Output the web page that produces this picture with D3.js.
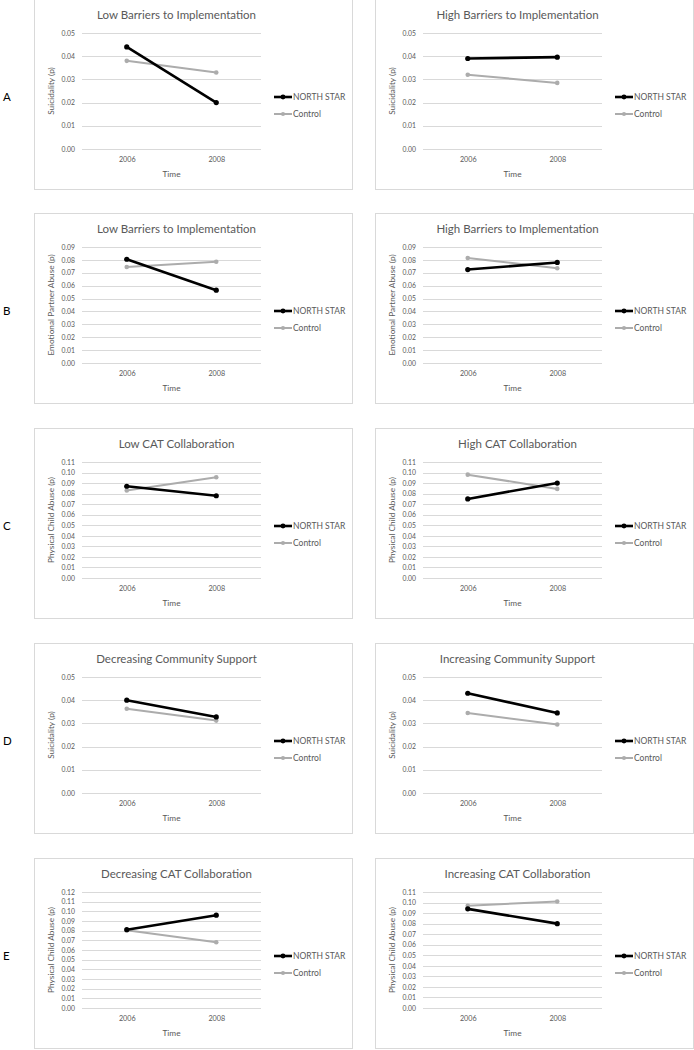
<!DOCTYPE html>
<html><head><meta charset="utf-8">
<script src="https://cdn.jsdelivr.net/npm/d3@7"></script>
<style>
html,body{margin:0;padding:0;background:#fff;}
svg{display:block;font-family:Lato, "Open Sans", sans-serif;}
</style></head>
<body>
<svg id="chart" width="694" height="1050"></svg>
<script>
const years = ["2006", "2008"];
const seriesNames = ["NORTH STAR", "Control"];
const rowLabels = ["A", "B", "C", "D", "E"];
const panelTitles = [
  "Low Barriers to Implementation", "High Barriers to Implementation",
  "Low Barriers to Implementation", "High Barriers to Implementation",
  "Low CAT Collaboration", "High CAT Collaboration",
  "Decreasing Community Support", "Increasing Community Support",
  "Decreasing CAT Collaboration", "Increasing CAT Collaboration"
];
const yTitles = [
  "Suicidality (p)", "Suicidality (p)",
  "Emotional Partner Abuse (p)", "Emotional Partner Abuse (p)",
  "Physical Child Abuse (p)", "Physical Child Abuse (p)",
  "Suicidality (p)", "Suicidality (p)",
  "Physical Child Abuse (p)", "Physical Child Abuse (p)"
];
const yMax = [0.05, 0.05, 0.09, 0.09, 0.11, 0.11, 0.05, 0.05, 0.12, 0.11];
const northStar = [
  [0.044, 0.020], [0.039, 0.0396],
  [0.0805, 0.0565], [0.0725, 0.078],
  [0.087, 0.078], [0.075, 0.090],
  [0.040, 0.0328], [0.043, 0.0345],
  [0.081, 0.096], [0.094, 0.080]
];
const control = [
  [0.038, 0.033], [0.032, 0.0285],
  [0.0745, 0.0785], [0.0815, 0.0735],
  [0.083, 0.0955], [0.098, 0.0845],
  [0.0363, 0.0312], [0.0345, 0.0295],
  [0.0805, 0.068], [0.097, 0.101]
];

const svg = d3.select("#chart");
const panelW = 318, panelH = 190;
const colX = [34, 375];
const rowY = [-1, 213, 428, 643, 858];
const plot = {left: 48, right: 227, top: 34, bottom: 150};
const txt = "#595959", grid = "#d9d9d9";
const colors = ["#000000", "#acacac"];
const widths = [2.6, 2.0];

rowLabels.forEach((lab, r) => {
  svg.append("text").attr("x", 3).attr("y", rowY[r] + 102)
    .attr("font-size", 11.5).attr("fill", "#000").text(lab);
});

panelTitles.forEach((title, i) => {
  const r = Math.floor(i / 2), c = i % 2;
  const g = svg.append("g").attr("transform", `translate(${colX[c]},${rowY[r]})`);
  g.append("rect").attr("x", 0.5).attr("y", 0.5).attr("width", panelW).attr("height", panelH)
    .attr("fill", "#fff").attr("stroke", grid).attr("stroke-width", 1);

  const x = d3.scalePoint().domain(years).range([plot.left, plot.right]).padding(0.5);
  const y = d3.scaleLinear().domain([0, yMax[i]]).range([plot.bottom, plot.top]);
  const nTicks = Math.round(yMax[i] / 0.01);
  const ticks = d3.range(nTicks + 1).map(k => k * 0.01);

  // gridlines
  g.append("g").selectAll("line").data(ticks).join("line")
    .attr("x1", plot.left).attr("x2", plot.right)
    .attr("y1", d => Math.round(y(d)) + 0.5).attr("y2", d => Math.round(y(d)) + 0.5)
    .attr("stroke", grid).attr("stroke-width", 1);

  // y axis labels
  const ya = g.append("g").attr("transform", `translate(${plot.left - 4},0)`)
    .call(d3.axisLeft(y).tickValues(ticks).tickFormat(d3.format(".2f")).tickSize(0));
  ya.select(".domain").remove();
  ya.selectAll("text").attr("fill", txt).attr("font-size", 6.8)
    .attr("font-family", "Lato, 'Open Sans', sans-serif");

  // x axis labels
  const xa = g.append("g").attr("transform", `translate(0,${plot.bottom + 5})`)
    .call(d3.axisBottom(x).tickSize(0));
  xa.select(".domain").remove();
  xa.selectAll("text").attr("fill", txt).attr("font-size", 7.2)
    .attr("font-family", "Lato, 'Open Sans', sans-serif");

  // titles
  g.append("text").attr("x", (plot.left + plot.right) / 2 + 5).attr("y", 20)
    .attr("text-anchor", "middle").attr("font-size", 11.5).attr("fill", txt).text(title);
  g.append("text").attr("x", (plot.left + plot.right) / 2).attr("y", plot.bottom + 28)
    .attr("text-anchor", "middle").attr("font-size", 8.3).attr("fill", txt).text("Time");
  g.append("text")
    .attr("transform", `translate(20,${(plot.top + plot.bottom) / 2}) rotate(-90)`)
    .attr("text-anchor", "middle").attr("font-size", 8.3).attr("fill", txt).text(yTitles[i]);

  // series
  const line = d3.line().x((d, k) => x(years[k])).y(d => y(d));
  [control[i], northStar[i]].forEach((vals, s0) => {
    const s = 1 - s0;
    g.append("path").datum(vals).attr("d", line).attr("fill", "none")
      .attr("stroke", colors[s]).attr("stroke-width", widths[s]);
    g.append("g").selectAll("circle").data(vals).join("circle")
      .attr("cx", (d, k) => x(years[k])).attr("cy", d => y(d))
      .attr("r", s === 0 ? 2.6 : 2.3).attr("fill", colors[s]);
  });

  // legend
  seriesNames.forEach((name, s) => {
    const ly = 98 + s * 17;
    g.append("line").attr("x1", 240).attr("x2", 258).attr("y1", ly).attr("y2", ly)
      .attr("stroke", colors[s]).attr("stroke-width", widths[s]);
    g.append("circle").attr("cx", 249).attr("cy", ly).attr("r", s === 0 ? 2.4 : 2.1)
      .attr("fill", colors[s]);
    g.append("text").attr("x", 259).attr("y", ly + 3)
      .attr("font-size", 8.5).attr("fill", txt).text(name);
  });
});
</script>
</body></html>
